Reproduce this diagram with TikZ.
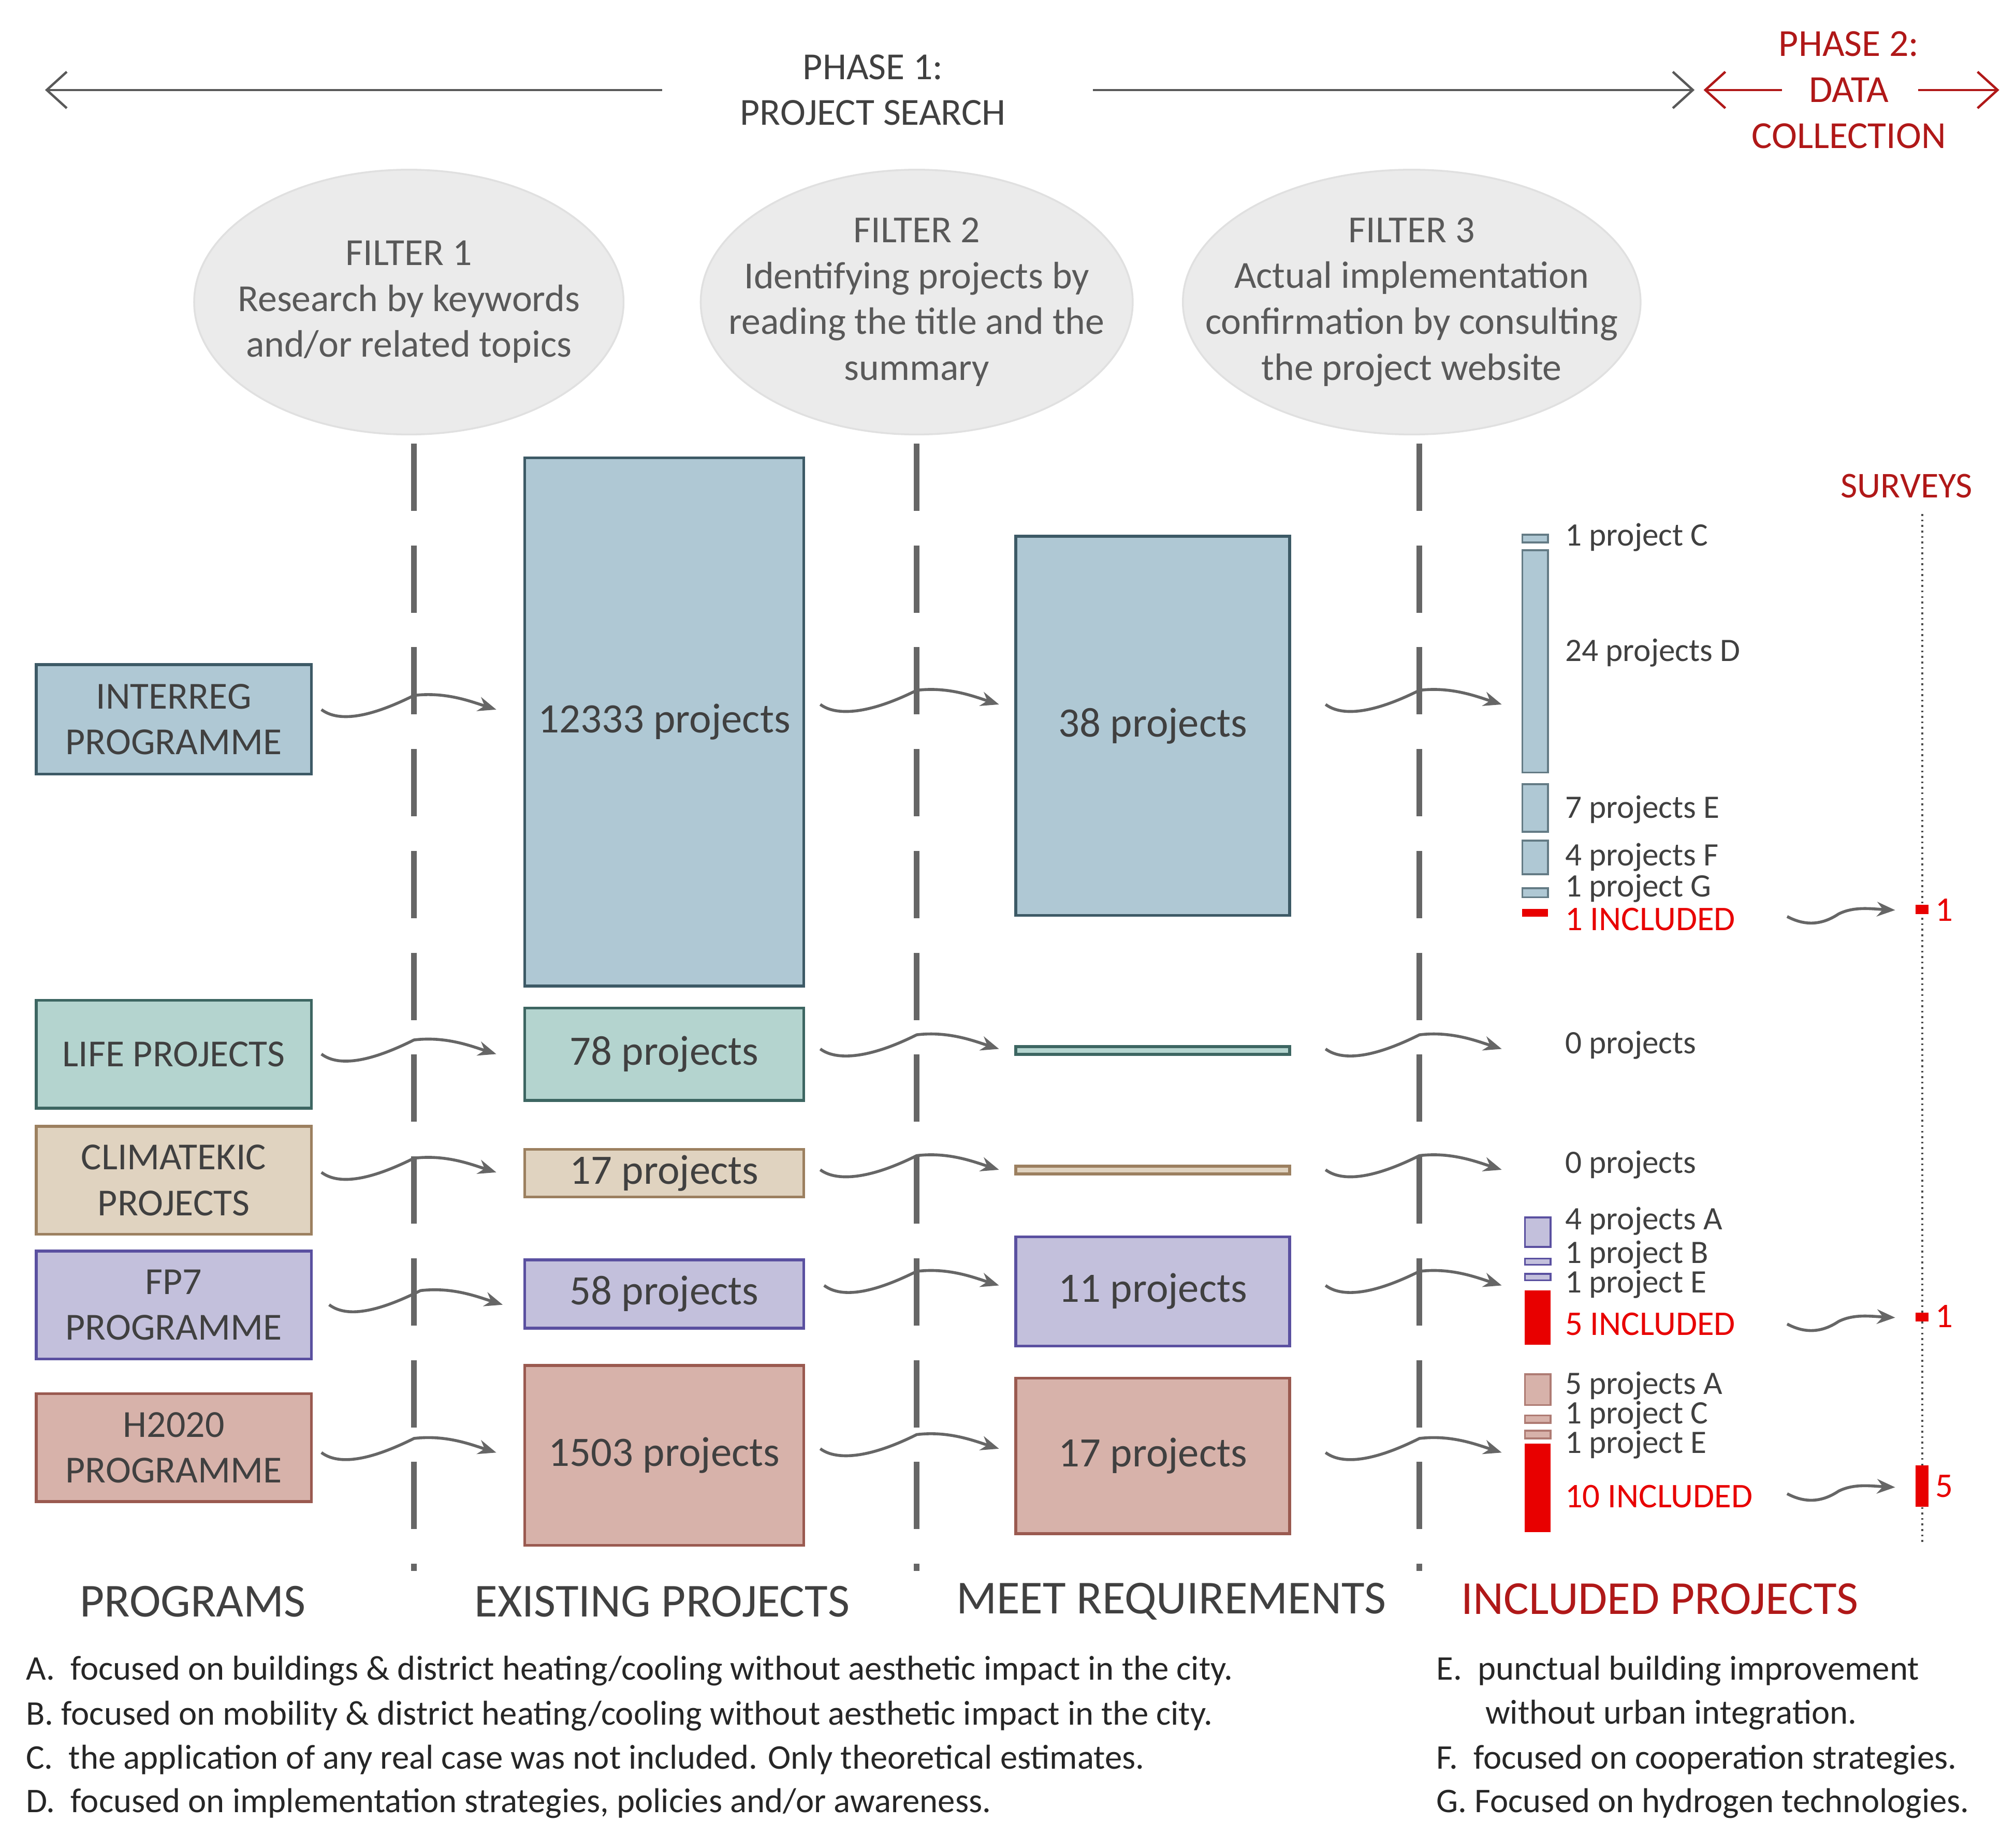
\documentclass[tikz,border=0pt]{standalone}
\usepackage{fontspec}
\setmainfont{Carlito}
\usetikzlibrary{arrows.meta,shapes.geometric}
\definecolor{txt}{HTML}{404040}
\definecolor{dred}{HTML}{B01818}
\definecolor{bred}{HTML}{E80000}
\definecolor{iF}{HTML}{AFC8D4}\definecolor{iD}{HTML}{3D5A66}
\definecolor{lF}{HTML}{B4D4CF}\definecolor{lD}{HTML}{3D6662}
\definecolor{cF}{HTML}{E0D3C0}\definecolor{cD}{HTML}{9C8060}
\definecolor{fF}{HTML}{C3C0DC}\definecolor{fD}{HTML}{5A50A0}
\definecolor{hF}{HTML}{D7B2AA}\definecolor{hD}{HTML}{9A5A50}
\newcommand{\fs}[1]{\fontsize{#1}{1.2\dimexpr#1pt\relax}\selectfont}
\newcommand{\bx}[5]{\node[draw=#5,fill=#4,line width=1.6pt,inner sep=0,minimum width=#2*0.024834cm,minimum height=#3*0.024834cm,anchor=north west] (#1)}
\newcommand{\wave}[4]{% name, xstart, xcross, y
 \coordinate (#1s) at (#2,#4); \coordinate (#1e) at (#3+64,#4);
 \draw[wv] (#1s) .. controls (#2+12,#4+9) and (#3-38,#4+8) .. (#3,#4-11) .. controls (#3+25,#4-14) and (#3+45,#4-6) .. (#1e);}
\newcommand{\swave}[2]{% name, y
 \coordinate (#1s) at (1390,#2); \coordinate (#1e) at (1474,#2-5);
 \draw[wv] (#1s) .. controls (1405,#2+8) and (1418,#2+6) .. (1430,#2-2) .. controls (1442,#2-8) and (1455,#2-6) .. (#1e);}
\tikzset{wv/.style={draw=black!60,line width=1.6pt,-{Stealth[length=10pt,width=8pt]}},
 lab/.style={anchor=west,text=txt,font=\fs{18},inner sep=0},
 rlab/.style={lab,text=bred,font=\fs{19}},
 ttl/.style={text=txt,font=\fs{21},align=center},
 leg/.style={anchor=west,text=black!85,font=\fs{19},inner sep=0},
 dsh/.style={draw=black!60,line width=3.2pt,dash pattern=on 37pt off 19pt},
 ell/.style={ellipse,draw=black!12,fill=black!8,line width=1pt,inner sep=0}}
\begin{document}
\begin{tikzpicture}[x=0.024834cm,y=-0.024834cm]
\useasboundingbox (0,0) rectangle (1568,1429);
% phase arrows
\node[ttl,font=\fs{21}] (p1) at (679,70) {PHASE 1:\\PROJECT SEARCH};
\coordinate (p1a) at (515,70); \coordinate (p1l) at (35,70);
\coordinate (p1b) at (850,70); \coordinate (p1r) at (1318,70);
\draw[black!65,line width=1.3pt,-{Straight Barb[length=11pt,width=20pt]}] (p1a)--(p1l);
\draw[black!65,line width=1.3pt,-{Straight Barb[length=11pt,width=20pt]}] (p1b)--(p1r);
\node[ttl,text=dred,font=\fs{21}] (p2) at (1438,70) {PHASE 2:\\DATA\\COLLECTION};
\coordinate (p2a) at (1386,70); \coordinate (p2l) at (1325,70);
\coordinate (p2b) at (1492,70); \coordinate (p2r) at (1555,70);
\draw[dred,line width=1.3pt,-{Straight Barb[length=11pt,width=20pt]}] (p2a)--(p2l);
\draw[dred,line width=1.3pt,-{Straight Barb[length=11pt,width=20pt]}] (p2b)--(p2r);
% ellipses
\node[ell,minimum width=334*0.024834cm,minimum height=206*0.024834cm] (f1) at (318,235) {};
\node[ttl,text=black!65] at (318,235) {FILTER 1\\Research by keywords\\and/or related topics};
\node[ell,minimum width=336*0.024834cm,minimum height=206*0.024834cm] (f2) at (713,235) {};
\node[ttl,text=black!65] at (713,235) {FILTER 2\\Identifying projects by\\reading the title and the\\summary};
\node[ell,minimum width=356*0.024834cm,minimum height=206*0.024834cm] (f3) at (1098,235) {};
\node[ttl,text=black!65] at (1098,235) {FILTER 3\\Actual implementation\\confirmation by consulting\\the project website};
% dashed lines
\foreach \x/\n in {322/d1,713/d2,1104/d3}{\coordinate (\n t) at (\x,345); \coordinate (\n b) at (\x,1222); \draw[dsh] (\n t)--(\n b);}
% program boxes
\bx{pi}{214}{85}{iF}{iD} at (27,516) {\parbox{5cm}{\centering\color{txt}\fs{21}INTERREG\\PROGRAMME}};
\bx{pl}{214}{84}{lF}{lD} at (27,777) {\color{txt}\fs{21}LIFE PROJECTS};
\bx{pc}{214}{84}{cF}{cD} at (27,875) {\parbox{5cm}{\centering\color{txt}\fs{21}CLIMATEKIC\\PROJECTS}};
\bx{pf}{214}{84}{fF}{fD} at (27,972) {\parbox{5cm}{\centering\color{txt}\fs{21}FP7\\PROGRAMME}};
\bx{ph}{214}{84}{hF}{hD} at (27,1083) {\parbox{5cm}{\centering\color{txt}\fs{21}H2020\\PROGRAMME}};
% existing
\bx{ei}{217}{411}{iF}{iD} at (407,355) {\color{txt}\fs{23}12333 projects};
\bx{el}{217}{72}{lF}{lD} at (407,783) {\color{txt}\fs{23}78 projects};
\bx{ec}{217}{37}{cF}{cD} at (407,893) {\color{txt}\fs{23}17 projects};
\bx{ef}{217}{53}{fF}{fD} at (407,979) {\color{txt}\fs{23}58 projects};
\bx{eh}{217}{140}{hF}{hD} at (407,1061) {\color{txt}\fs{23}1503 projects};
% meet
\bx{mi}{213}{295}{iF}{iD} at (789,416) {\color{txt}\fs{23}38 projects};
\bx{ml}{213}{6}{lF}{lD} at (789,813) {};
\bx{mc}{213}{6}{cF}{cD} at (789,906) {};
\bx{mf}{213}{85}{fF}{fD} at (789,961) {\color{txt}\fs{23}11 projects};
\bx{mh}{213}{121}{hF}{hD} at (789,1071) {\color{txt}\fs{23}17 projects};
% included bars
\draw[draw=iD!80,fill=iF,line width=1pt] (1184,416) rectangle (1204,422);
\draw[draw=iD!80,fill=iF,line width=1pt] (1184,428) rectangle (1204,601);
\draw[draw=iD!80,fill=iF,line width=1pt] (1184,610) rectangle (1204,647);
\draw[draw=iD!80,fill=iF,line width=1pt] (1184,654) rectangle (1204,680);
\draw[draw=iD!80,fill=iF,line width=1pt] (1184,691) rectangle (1204,698);
\fill[bred] (1184,707) rectangle (1204,713);
\draw[draw=fD,fill=fF,line width=1pt] (1186,947) rectangle (1206,970);
\draw[draw=fD,fill=fF,line width=1pt] (1186,979) rectangle (1206,984);
\draw[draw=fD,fill=fF,line width=1pt] (1186,991) rectangle (1206,996);
\fill[bred] (1186,1004) rectangle (1206,1046);
\draw[draw=hD!80,fill=hF,line width=1pt] (1186,1069) rectangle (1206,1093);
\draw[draw=hD!80,fill=hF,line width=1pt] (1186,1101) rectangle (1206,1107);
\draw[draw=hD!80,fill=hF,line width=1pt] (1186,1113) rectangle (1206,1119);
\fill[bred] (1186,1123) rectangle (1206,1192);
% included labels
\node[lab] at (1217,418) {1 project C};
\node[lab] at (1217,508) {24 projects D};
\node[lab] at (1217,630) {7 projects E};
\node[lab] at (1217,667) {4 projects F};
\node[lab] at (1217,691) {1 project G};
\node[rlab] (inc1) at (1217,715) {1 INCLUDED};
\node[lab] at (1217,813) {0 projects};
\node[lab] at (1217,906) {0 projects};
\node[lab] at (1217,950) {4 projects A};
\node[lab] at (1217,976) {1 project B};
\node[lab] at (1217,999) {1 project E};
\node[rlab] (inc2) at (1217,1030) {5 INCLUDED};
\node[lab] at (1217,1078) {5 projects A};
\node[lab] at (1217,1101) {1 project C};
\node[lab] at (1217,1124) {1 project E};
\node[rlab] (inc3) at (1217,1164) {10 INCLUDED};
% surveys
\node[text=dred,font=\fs{20}] (sv) at (1483,378) {SURVEYS};
\coordinate (svt) at (1495,400); \coordinate (svb) at (1495,1200);
\draw[black!70,line width=1pt,dotted] (svt)--(svb);
\fill[bred] (1490,704) rectangle (1500,711);
\fill[bred] (1490,1021) rectangle (1500,1028);
\fill[bred] (1490,1140) rectangle (1500,1172);
\node[rlab] at (1505,708) {1};
\node[rlab] at (1505,1024) {1};
\node[rlab] at (1505,1156) {5};
% waves
\wave{a1}{250}{322}{552} \wave{a2}{638}{713}{548} \wave{a3}{1031}{1104}{548}
\wave{b1}{250}{322}{820} \wave{b2}{638}{713}{816} \wave{b3}{1031}{1104}{816}
\wave{c1}{250}{322}{912} \wave{c2}{638}{713}{910} \wave{c3}{1031}{1104}{910}
\wave{d1}{256}{327}{1015} \wave{d2}{641}{713}{1000} \wave{d3}{1031}{1104}{1000}
\wave{e1}{250}{322}{1130} \wave{e2}{638}{713}{1127} \wave{e3}{1031}{1104}{1130}
\swave{s1}{713} \swave{s2}{1030} \swave{s3}{1162}
% headers
\node[text=txt,font=\fs{26}] at (150,1246) {PROGRAMS};
\node[text=txt,font=\fs{26}] at (515,1246) {EXISTING PROJECTS};
\node[text=txt,font=\fs{26}] at (911,1246) {MEET REQUIREMENTS};
\node[text=dred,font=\fs{26}] at (1291,1244) {INCLUDED PROJECTS};
% legend
\node[leg] at (20,1300) {A.\ \ focused on buildings \& district heating/cooling without aesthetic impact in the city.};
\node[leg] at (20,1335) {B. focused on mobility \& district heating/cooling without aesthetic impact in the city.};
\node[leg] at (20,1369) {C.\ \ the application of any real case was not included. Only theoretical estimates.};
\node[leg] at (20,1403) {D.\ \ focused on implementation strategies, policies and/or awareness.};
\node[leg] at (1117,1300) {E.\ \ punctual building improvement};
\node[leg] at (1155,1334) {without urban integration.};
\node[leg] at (1117,1369) {F.\ \ focused on cooperation strategies.};
\node[leg] at (1117,1403) {G. Focused on hydrogen technologies.};
\end{tikzpicture}
\end{document}
